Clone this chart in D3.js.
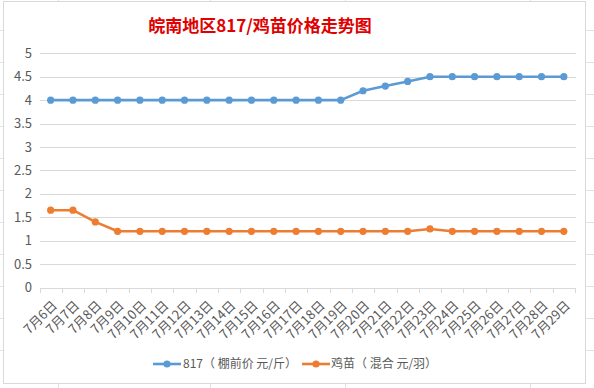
<!DOCTYPE html>
<html><head><meta charset="utf-8">
<script src="https://cdn.jsdelivr.net/npm/d3@7"></script>
<style>
body{margin:0;background:#fff;}
svg{display:block;font-family:"Noto Sans CJK SC","Liberation Sans",sans-serif;}
</style></head><body>
<svg id="c" width="594" height="388"></svg>
<script>
const categories = ["7月6日","7月7日","7月8日","7月9日","7月10日","7月11日","7月12日","7月13日","7月14日","7月15日","7月16日","7月17日","7月18日","7月19日","7月20日","7月21日","7月22日","7月23日","7月24日","7月25日","7月26日","7月27日","7月28日","7月29日"];
const series817 = [4,4,4,4,4,4,4,4,4,4,4,4,4,4,4.2,4.3,4.4,4.5,4.5,4.5,4.5,4.5,4.5,4.5];
const seriesChick = [1.65,1.65,1.4,1.2,1.2,1.2,1.2,1.2,1.2,1.2,1.2,1.2,1.2,1.2,1.2,1.2,1.2,1.25,1.2,1.2,1.2,1.2,1.2,1.2];
const yTicks = [0,0.5,1,1.5,2,2.5,3,3.5,4,4.5,5];
const seriesNames = ["817（ 棚前价 元/斤）","鸡苗（ 混合 元/羽）"];
const colors = ["#5B9BD5","#ED7D31"];
const title = "皖南地区817/鸡苗价格走势图";

const svg = d3.select("#c");
// spreadsheet background lines outside chart
const bg = svg.append("g").attr("stroke","#e3e3e3").attr("stroke-width",1);
[30,62,94,126,158,190,222,254,286,318,350].forEach(y=>{
  bg.append("line").attr("x1",0).attr("x2",3).attr("y1",y+0.5).attr("y2",y+0.5);
  bg.append("line").attr("x1",586).attr("x2",594).attr("y1",y+0.5).attr("y2",y+0.5);
});
[58,210,345,530].forEach(x=>{
  bg.append("line").attr("x1",x+0.5).attr("x2",x+0.5).attr("y1",0).attr("y2",2);
  bg.append("line").attr("x1",x+0.5).attr("x2",x+0.5).attr("y1",384).attr("y2",388);
});
// chart border
svg.append("rect").attr("x",3.5).attr("y",1.5).attr("width",582).attr("height",382)
  .attr("fill","#fff").attr("stroke","#d9d9d9");

const x = d3.scaleBand().domain(categories).range([39.5,575]);
const y = d3.scaleLinear().domain([0,5]).range([287.5,53.3]);

// gridlines
svg.append("g").selectAll("line").data(yTicks.filter(d=>d>0)).join("line")
  .attr("x1",40).attr("x2",576).attr("y1",d=>Math.round(y(d))+0.5).attr("y2",d=>Math.round(y(d))+0.5)
  .attr("stroke","#d9d9d9");

// y labels
svg.append("g").selectAll("text").data(yTicks).join("text")
  .attr("x",32).attr("y",d=>y(d)).attr("dy","0.35em").attr("text-anchor","end")
  .attr("font-size",13).attr("fill","#595959").text(d=>d);

// x axis
const xa = svg.append("g").attr("transform","translate(0,288)");
xa.append("line").attr("x1",40).attr("x2",576).attr("y1",0.5).attr("y2",0.5).attr("stroke","#d9d9d9");
const bounds = categories.map(c=>x(c)).concat([x.range()[1]]);
xa.selectAll("line.t").data(bounds).join("line").attr("class","t")
  .attr("x1",d=>Math.round(d)+0.5).attr("x2",d=>Math.round(d)+0.5).attr("y1",0).attr("y2",5)
  .attr("stroke","#d9d9d9");
xa.selectAll("text").data(categories).join("text")
  .attr("transform",d=>`translate(${x(d)+x.bandwidth()/2+4},${15}) rotate(-45)`)
  .attr("text-anchor","end").attr("dy","0.35em")
  .attr("font-size",13).attr("fill","#595959").text(d=>d);

// lines
const line = d3.line().x((d,i)=>x(categories[i])+x.bandwidth()/2).y(d=>y(d));
[series817,seriesChick].forEach((s,k)=>{
  svg.append("path").datum(s).attr("d",line).attr("fill","none")
    .attr("stroke",colors[k]).attr("stroke-width",2.6).attr("stroke-linejoin","round");
  svg.append("g").selectAll("circle").data(s).join("circle")
    .attr("cx",(d,i)=>x(categories[i])+x.bandwidth()/2).attr("cy",d=>y(d)).attr("r",3.6)
    .attr("fill",colors[k]);
});

// title
svg.append("text").attr("x",260).attr("y",32).attr("text-anchor","middle")
  .attr("font-size",17).attr("font-weight","bold").attr("fill","#e00000").text(title);

// legend
const lg = svg.append("g");
const lx = [153,302], tx=[183,331];
seriesNames.forEach((n,k)=>{
  lg.append("line").attr("x1",lx[k]).attr("x2",lx[k]+28).attr("y1",364).attr("y2",364)
    .attr("stroke",colors[k]).attr("stroke-width",2.6);
  lg.append("circle").attr("cx",lx[k]+14).attr("cy",364).attr("r",3.6).attr("fill",colors[k]);
  lg.append("text").attr("x",tx[k]).attr("y",364).attr("dy","0.35em").attr("font-size",12)
    .attr("fill","#595959").text(n);
});
</script>
</body></html>
